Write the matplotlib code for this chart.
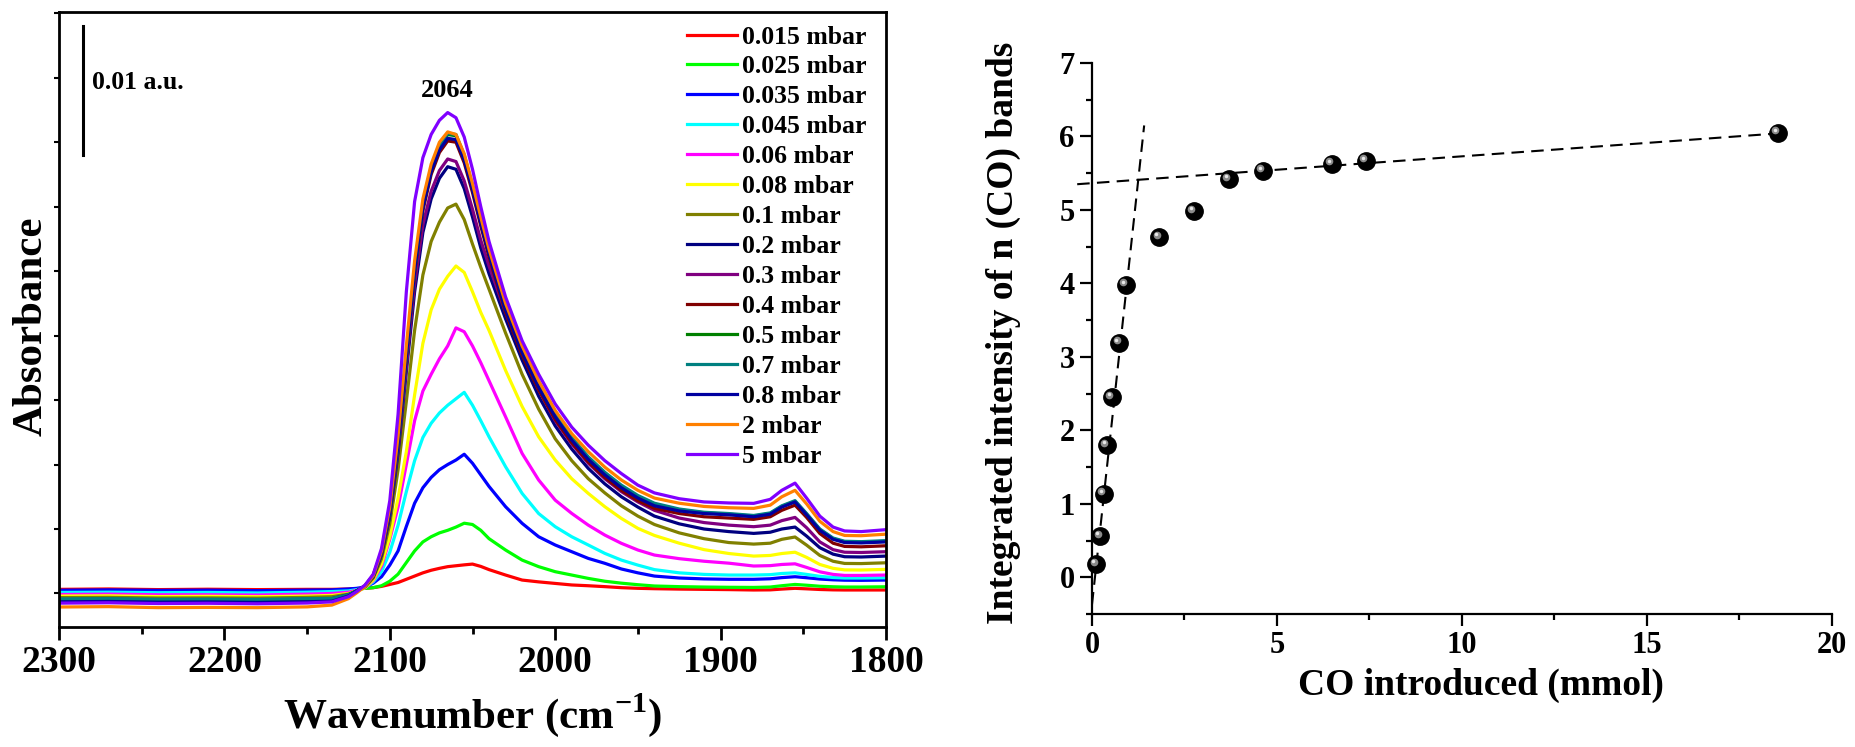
import matplotlib.pyplot as plt
import matplotlib.transforms as mtransforms
from matplotlib.ticker import MultipleLocator
import numpy as np

plt.rcParams['font.family'] = 'Liberation Serif'
plt.rcParams['font.weight'] = 'bold'
plt.rcParams['mathtext.fontset'] = 'custom'
plt.rcParams['mathtext.rm'] = 'Liberation Serif:bold'
plt.rcParams['mathtext.bf'] = 'Liberation Serif:bold'

# ---- left panel: IR spectra (absorbance in 1e-3 a.u.) ----
wavenumber = [2300, 2270, 2240, 2210, 2180, 2150, 2135, 2125, 2120, 2115, 2110, 2105,
              2100, 2095, 2090, 2085, 2080, 2075, 2070, 2065, 2060, 2055, 2050, 2045,
              2040, 2030, 2020, 2010, 2000, 1990, 1980, 1970, 1960, 1950, 1940, 1925,
              1910, 1895, 1880, 1870, 1863, 1855, 1848, 1840, 1832, 1825, 1815, 1800]

pressures = ['0.015 mbar', '0.025 mbar', '0.035 mbar', '0.045 mbar', '0.06 mbar',
             '0.08 mbar', '0.1 mbar', '0.2 mbar', '0.3 mbar', '0.4 mbar', '0.5 mbar',
             '0.7 mbar', '0.8 mbar', '2 mbar', '5 mbar']

colors = ['#FF0000', '#00FF00', '#0000FF', '#00FFFF', '#FF00FF', '#FFFF00', '#808000',
          '#000080', '#800080', '#800000', '#008000', '#008080', '#0000A0', '#FF8000',
          '#8000FF']

abs_0015 = [2.92, 2.95, 2.90, 2.93, 2.90, 2.92, 2.92, 2.95, 2.98, 3.00, 3.05, 3.15,
            3.30, 3.45, 3.70, 3.95, 4.20, 4.40, 4.55, 4.68, 4.75, 4.82, 4.88, 4.70,
            4.45, 4.03, 3.64, 3.50, 3.38, 3.26, 3.20, 3.13, 3.05, 3.00, 2.97, 2.94,
            2.92, 2.90, 2.87, 2.88, 2.94, 3.00, 2.96, 2.91, 2.88, 2.87, 2.87, 2.87]
abs_0025 = [2.72, 2.75, 2.70, 2.72, 2.68, 2.72, 2.78, 2.85, 2.90, 3.00, 3.05, 3.20,
            3.55, 4.10, 5.00, 5.90, 6.60, 7.00, 7.30, 7.50, 7.75, 8.05, 7.95, 7.50,
            6.85, 5.97, 5.19, 4.68, 4.29, 4.03, 3.77, 3.55, 3.40, 3.28, 3.18, 3.13,
            3.10, 3.08, 3.07, 3.10, 3.20, 3.30, 3.24, 3.16, 3.12, 3.10, 3.10, 3.12]
abs_0035 = [2.85, 2.88, 2.84, 2.86, 2.82, 2.86, 2.88, 2.95, 3.00, 3.10, 3.40, 3.90,
            4.80, 5.90, 7.80, 9.60, 10.80, 11.60, 12.20, 12.60, 12.95, 13.40, 12.70, 11.80,
            10.90, 9.33, 8.04, 7.00, 6.36, 5.84, 5.32, 4.94, 4.50, 4.20, 3.95, 3.80,
            3.73, 3.70, 3.70, 3.74, 3.83, 3.90, 3.82, 3.72, 3.66, 3.63, 3.62, 3.64]
abs_0045 = [2.68, 2.70, 2.66, 2.68, 2.64, 2.70, 2.75, 2.80, 2.90, 3.05, 3.50, 4.30,
            5.80, 7.90, 10.50, 12.90, 14.70, 15.80, 16.60, 17.20, 17.70, 18.20, 17.20, 16.00,
            14.75, 12.43, 10.36, 8.80, 7.78, 7.00, 6.36, 5.71, 5.19, 4.80, 4.45, 4.20,
            4.08, 4.03, 4.03, 4.06, 4.15, 4.20, 4.08, 3.93, 3.84, 3.80, 3.80, 3.82]
abs_006 = [2.52, 2.55, 2.50, 2.50, 2.48, 2.55, 2.60, 2.70, 2.85, 3.05, 3.60, 4.70,
           6.80, 9.30, 12.60, 16.00, 18.30, 19.60, 20.80, 21.80, 23.20, 22.90, 21.80, 20.50,
           19.10, 16.30, 13.46, 11.40, 9.84, 8.81, 7.90, 7.13, 6.49, 5.97, 5.58, 5.30,
           5.10, 4.95, 4.73, 4.76, 4.85, 4.90, 4.62, 4.28, 4.08, 4.00, 4.00, 4.03]
abs_008 = [2.40, 2.42, 2.36, 2.38, 2.35, 2.40, 2.45, 2.60, 2.80, 3.05, 3.65, 4.90,
           7.00, 10.00, 13.60, 18.00, 22.00, 24.60, 26.20, 27.20, 28.00, 27.50, 26.00, 24.40,
           23.00, 19.90, 17.10, 14.75, 12.95, 11.50, 10.36, 9.33, 8.42, 7.65, 7.10, 6.50,
           6.00, 5.70, 5.50, 5.55, 5.70, 5.80, 5.40, 4.85, 4.55, 4.43, 4.42, 4.47]
abs_01 = [2.28, 2.30, 2.25, 2.26, 2.24, 2.30, 2.35, 2.55, 2.80, 3.10, 3.80, 5.30,
          8.00, 12.20, 17.50, 23.00, 27.30, 29.90, 31.40, 32.50, 32.80, 31.60, 29.70, 27.90,
          26.20, 22.80, 19.60, 16.90, 14.60, 12.90, 11.50, 10.40, 9.40, 8.60, 7.95, 7.30,
          6.85, 6.55, 6.43, 6.50, 6.80, 6.98, 6.35, 5.55, 5.10, 4.93, 4.92, 4.98]
abs_02 = [2.12, 2.15, 2.10, 2.10, 2.08, 2.15, 2.20, 2.50, 2.80, 3.15, 3.90, 5.60,
          8.60, 13.50, 19.80, 26.00, 30.60, 33.20, 34.80, 35.70, 35.50, 34.00, 31.80, 29.40,
          27.40, 23.90, 20.70, 17.90, 15.60, 13.80, 12.30, 11.10, 10.10, 9.30, 8.60, 8.00,
          7.60, 7.40, 7.26, 7.35, 7.60, 7.75, 7.05, 6.15, 5.65, 5.45, 5.43, 5.50]
abs_03 = [2.02, 2.05, 2.00, 2.00, 1.98, 2.05, 2.10, 2.45, 2.80, 3.15, 3.95, 5.70,
          8.80, 13.80, 20.20, 26.60, 31.20, 33.80, 35.40, 36.30, 36.10, 34.60, 32.40, 30.00,
          28.00, 24.40, 21.20, 18.40, 16.00, 14.20, 12.70, 11.50, 10.50, 9.70, 9.05, 8.45,
          8.10, 7.90, 7.78, 7.90, 8.25, 8.50, 7.70, 6.60, 6.00, 5.80, 5.78, 5.84]
abs_04 = [1.98, 2.00, 1.95, 1.96, 1.94, 2.00, 2.05, 2.42, 2.80, 3.18, 4.00, 5.80,
          9.00, 14.20, 20.90, 27.40, 32.30, 35.10, 36.80, 37.70, 37.60, 36.00, 33.70, 31.10,
          28.70, 24.40, 21.10, 18.40, 16.10, 14.30, 12.80, 11.60, 10.60, 9.80, 9.20, 8.80,
          8.55, 8.45, 8.35, 8.55, 9.05, 9.45, 8.50, 7.25, 6.50, 6.25, 6.22, 6.30]
abs_05 = [2.08, 2.10, 2.05, 2.06, 2.04, 2.10, 2.12, 2.45, 2.80, 3.18, 4.00, 5.80,
          9.00, 14.20, 21.00, 27.60, 32.60, 35.40, 37.20, 38.20, 38.10, 36.50, 34.10, 31.50,
          29.00, 24.70, 21.40, 18.70, 16.40, 14.60, 13.10, 11.90, 10.90, 10.10, 9.50, 9.10,
          8.85, 8.75, 8.60, 8.80, 9.35, 9.75, 8.75, 7.55, 6.85, 6.60, 6.57, 6.65]
abs_07 = [2.18, 2.20, 2.15, 2.16, 2.14, 2.20, 2.22, 2.50, 2.80, 3.18, 4.00, 5.80,
          9.10, 14.30, 21.10, 27.70, 32.70, 35.50, 37.30, 38.30, 38.20, 36.60, 34.20, 31.60,
          29.10, 24.80, 21.50, 18.80, 16.50, 14.70, 13.20, 12.00, 11.00, 10.20, 9.60, 9.15,
          8.90, 8.80, 8.65, 8.85, 9.40, 9.80, 8.80, 7.60, 6.90, 6.65, 6.62, 6.70]
abs_08 = [1.95, 1.98, 1.92, 1.94, 1.90, 1.96, 2.00, 2.40, 2.80, 3.20, 4.00, 5.80,
          9.00, 14.20, 21.00, 27.60, 32.50, 35.30, 37.00, 37.90, 37.80, 36.20, 33.90, 31.30,
          28.90, 24.60, 21.30, 18.60, 16.30, 14.50, 13.00, 11.80, 10.80, 10.00, 9.40, 9.00,
          8.80, 8.70, 8.55, 8.75, 9.30, 9.70, 8.70, 7.50, 6.80, 6.55, 6.52, 6.60]
abs_2 = [1.55, 1.58, 1.50, 1.52, 1.50, 1.56, 1.70, 2.20, 2.65, 3.15, 4.00, 5.90,
         9.30, 14.80, 21.80, 28.40, 33.20, 35.90, 37.60, 38.40, 38.20, 36.70, 34.40, 31.80,
         29.30, 25.10, 21.80, 19.10, 16.80, 15.00, 13.60, 12.40, 11.40, 10.60, 10.00, 9.60,
         9.35, 9.25, 9.20, 9.45, 10.10, 10.60, 9.55, 8.20, 7.40, 7.10, 7.08, 7.20]
abs_5 = [1.85, 1.88, 1.82, 1.84, 1.80, 1.86, 1.95, 2.35, 2.75, 3.25, 4.10, 6.10,
         9.80, 16.50, 26.00, 33.00, 36.40, 38.20, 39.30, 39.90, 39.50, 38.00, 35.50, 32.60,
         29.90, 25.60, 22.20, 19.60, 17.30, 15.50, 14.10, 12.90, 11.90, 11.00, 10.40, 9.95,
         9.70, 9.62, 9.59, 9.90, 10.60, 11.16, 10.00, 8.60, 7.75, 7.45, 7.40, 7.55]

spectra = [abs_0015, abs_0025, abs_0035, abs_0045, abs_006, abs_008, abs_01, abs_02,
           abs_03, abs_04, abs_05, abs_07, abs_08, abs_2, abs_5]

# ---- right panel: integrated intensity vs CO dose ----
co_mmol = [0.11, 0.22, 0.32, 0.40, 0.54, 0.74, 0.91, 1.82, 2.75, 3.69, 4.62, 6.48, 7.40, 18.53]
intensity = [0.175, 0.56, 1.14, 1.80, 2.45, 3.19, 3.98, 4.63, 4.98, 5.42, 5.53, 5.63, 5.67, 6.05]
steep_x = [0.0, 1.41]
steep_y = [-0.37, 6.15]
flat_x = [-0.4, 18.5]
flat_y = [5.35, 6.04]

W, H = 1856, 747
fig = plt.figure(figsize=(W / 100, H / 100), dpi=100)

# left panel
ax1 = fig.add_axes([59 / W, 120 / H, 827 / W, 615 / H])
for label, color, y in zip(pressures, colors, spectra):
    ax1.plot(wavenumber, y, color=color, lw=2.3, label=label)
ax1.set_xlim(2300, 1800)
ax1.set_ylim(0, 47.7)
ax1.xaxis.set_major_locator(MultipleLocator(100))
ax1.xaxis.set_minor_locator(MultipleLocator(50))
ax1.set_yticks(np.arange(2.6, 47.7, 5))
ax1.set_yticklabels([])
ax1.tick_params(axis='x', which='major', direction='out', length=9, width=2,
                labelsize=27, pad=4)
ax1.tick_params(axis='x', which='minor', direction='out', length=5, width=2)
ax1.tick_params(axis='y', direction='out', length=3.5, width=1.5)
for sp in ax1.spines.values():
    sp.set_linewidth(2)

# scale bar and peak label
ax1.plot([2285.5, 2285.5], [36.6, 46.6], color='black', lw=2.2)
ax1.text(2280, 42.2, '0.01 a.u.', fontsize=18.5, fontweight='bold', ha='left', va='center')
ax1.text(2065, 40.7, '2064', fontsize=19, fontweight='bold', ha='center', va='bottom')

ax1.legend(loc='upper left', bbox_to_anchor=(0.7594, 0.978), frameon=False,
           fontsize=18.5, handlelength=1.95, handletextpad=0.2, labelspacing=0.27,
           borderpad=0, borderaxespad=0)

fig.text(32 / W, 1 - 326 / H, 'Absorbance', rotation=90, fontsize=31,
         fontweight='bold', ha='center', va='center')
fig.text(473 / W, 1 - 715 / H, 'Wavenumber (cm$^{-1}$)', fontsize=31,
         fontweight='bold', ha='center', va='center')

# right panel
ax2 = fig.add_axes([1092 / W, 133 / H, 740 / W, 551 / H])
ax2.set_xlim(0, 20)
ax2.set_ylim(-0.5, 7)
ax2.spines['top'].set_visible(False)
ax2.spines['right'].set_visible(False)
for sp in ('left', 'bottom'):
    ax2.spines[sp].set_linewidth(1.6)
ax2.xaxis.set_major_locator(MultipleLocator(5))
ax2.xaxis.set_minor_locator(MultipleLocator(2.5))
ax2.yaxis.set_minor_locator(MultipleLocator(0.5))
ax2.set_yticks(range(0, 8))
ax2.tick_params(which='major', direction='out', length=8.5, width=1.6, labelsize=22, pad=4)
ax2.tick_params(which='minor', direction='out', length=4.5, width=1.6)

ax2.plot(steep_x, steep_y, color='black', lw=1.5, dashes=(6, 3.5), clip_on=False)
ax2.plot(flat_x, flat_y, color='black', lw=1.5, dashes=(6, 3.5), clip_on=False)
ax2.plot(co_mmol, intensity, 'o', ms=12.5, mfc='black', mec='black', zorder=3, clip_on=False)
# small highlight so the markers look like shaded balls
shine = mtransforms.offset_copy(ax2.transData, fig=fig, x=-2.5, y=2.5, units='dots')
ax2.plot(co_mmol, intensity, 'o', ms=5.5, color='#8a8a8a', mec='none', zorder=4,
         transform=shine, clip_on=False)
shine2 = mtransforms.offset_copy(ax2.transData, fig=fig, x=-3, y=3, units='dots')
ax2.plot(co_mmol, intensity, 'o', ms=2.5, color='#e8e8e8', mec='none', zorder=5,
         transform=shine2, clip_on=False)

fig.text(1003 / W, 1 - 333 / H, 'Integrated intensity of n (CO) bands', rotation=90,
         fontsize=27, fontweight='bold', ha='center', va='center')
fig.text(1481 / W, 1 - 685 / H, 'CO introduced (mmol)', fontsize=27,
         fontweight='bold', ha='center', va='center')

fig.savefig('out.png', dpi=100)
